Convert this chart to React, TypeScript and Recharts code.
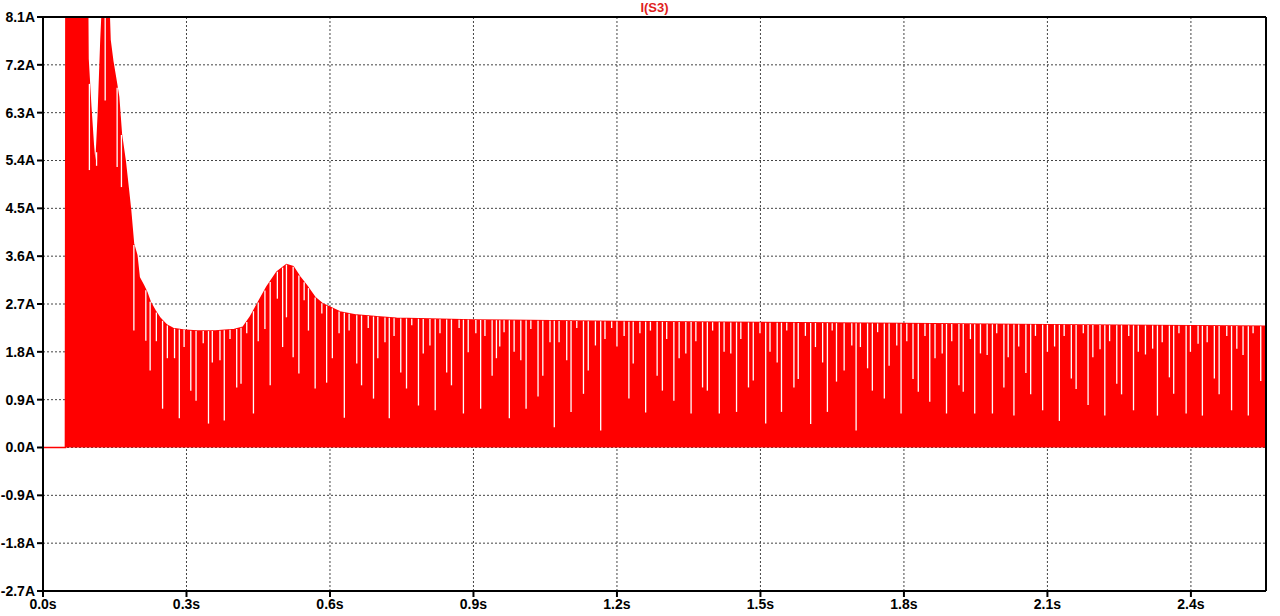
import { ComposedChart, Area, XAxis, YAxis, CartesianGrid, ReferenceLine } from "recharts"

// time axis (s)
const T_MAX = 2.557
const xTicks = [0, 0.3, 0.6, 0.9, 1.2, 1.5, 1.8, 2.1, 2.4]
const yTicks = [-2.7, -1.8, -0.9, 0, 0.9, 1.8, 2.7, 3.6, 4.5, 5.4, 6.3, 7.2, 8.1]

// upper envelope of I(S3) (values above 8.1A are clipped)
const envTime = [
  0, 0.047, 0.048, 0.093, 0.094, 0.0997, 0.105, 0.11, 0.1157, 0.1213, 0.126, 0.1366, 0.14, 0.1457,
  0.1526, 0.158, 0.1637, 0.172, 0.178, 0.183, 0.189, 0.196, 0.201, 0.21, 0.217, 0.224, 0.234, 0.245,
  0.259, 0.272, 0.293, 0.321, 0.36, 0.4, 0.418, 0.433, 0.449, 0.468, 0.489, 0.509, 0.523, 0.537,
  0.551, 0.569, 0.585, 0.6, 0.621, 0.656, 0.698, 0.739, 0.9, 1.2, 1.5, 1.8, 2.1, 2.4, 2.557,
]
const envCurrent = [
  0, 0, 8.6, 8.6, 7.31, 6.42, 5.7, 5.18, 6.25, 7.67, 8.6, 8.6, 7.67, 7.27,
  6.9, 6.6, 5.9, 5.37, 4.88, 4.46, 3.84, 3.62, 3.2, 3.05, 2.92, 2.74, 2.58, 2.43,
  2.3, 2.24, 2.21, 2.19, 2.19, 2.22, 2.26, 2.45, 2.71, 3.02, 3.3, 3.44, 3.4, 3.21,
  3.05, 2.82, 2.7, 2.64, 2.55, 2.49, 2.46, 2.43, 2.4, 2.37, 2.35, 2.33, 2.31, 2.29, 2.28,
]

// gaps between switching pulses: [time, lowest current reached]
const dips: [number, number][] = [
  [0.097, 5.22], [0.112, 5.3], [0.13, 6.53], [0.155, 5.28], [0.164, 4.9], [0.19, 2.2], [0.215, 2.01],
  [0.224, 1.45], [0.237, 2.0], [0.25, 0.73], [0.26, 1.68], [0.275, 1.68], [0.285, 0.55], [0.295, 1.89],
  [0.309, 1.07], [0.32, 0.88], [0.335, 1.96], [0.346, 0.45], [0.354, 1.6], [0.37, 1.64], [0.379, 0.51],
  [0.391, 2.04], [0.405, 1.13], [0.414, 1.2], [0.426, 2.15], [0.44, 0.64], [0.45, 2.0], [0.464, 2.23],
  [0.475, 1.17], [0.49, 2.8], [0.501, 1.89], [0.509, 2.45], [0.523, 1.7], [0.535, 1.39], [0.546, 2.77],
  [0.555, 2.2], [0.569, 1.11], [0.583, 2.52], [0.593, 1.22],
  [0.605, 1.68], [0.619, 2.15], [0.63, 0.56], [0.64, 2.2], [0.656, 1.58], [0.666, 1.17], [0.68, 2.25],
  [0.691, 0.92], [0.7, 1.68], [0.715, 1.98], [0.724, 0.55], [0.734, 2.1], [0.748, 1.41], [0.76, 1.11],
  [0.771, 2.3], [0.785, 0.79], [0.795, 1.77], [0.809, 1.92], [0.82, 0.7], [0.83, 2.15], [0.844, 1.41],
  [0.854, 1.17], [0.87, 2.25], [0.879, 0.64], [0.889, 1.79], [0.905, 2.15], [0.915, 0.73], [0.924, 2.1],
  [0.939, 1.35], [0.948, 1.68], [0.955, 1.9],
  [0.964, 2.17], [0.975, 0.55], [0.985, 1.8], [0.999, 1.64], [1.01, 0.73], [1.02, 2.23], [1.035, 0.96],
  [1.045, 1.35], [1.06, 1.98], [1.069, 0.38], [1.079, 1.98], [1.095, 1.64], [1.104, 0.67], [1.116, 2.25],
  [1.13, 1.01], [1.14, 1.45], [1.155, 1.92], [1.166, 0.32], [1.175, 2.04], [1.189, 2.25], [1.2, 1.9],
  [1.215, 2.1], [1.225, 0.92], [1.234, 1.58], [1.248, 2.15], [1.26, 0.66], [1.27, 2.2], [1.284, 1.35],
  [1.295, 1.07], [1.304, 2.04],
  [1.319, 0.88], [1.33, 1.68], [1.344, 1.77], [1.355, 0.64], [1.365, 2.0], [1.379, 1.13], [1.389, 1.07],
  [1.4, 2.2], [1.414, 0.64], [1.424, 1.8], [1.438, 1.77], [1.45, 0.67], [1.459, 2.04], [1.475, 1.13],
  [1.485, 1.26], [1.499, 2.15], [1.511, 0.45], [1.52, 1.8], [1.535, 1.6], [1.544, 0.67], [1.555, 2.2],
  [1.57, 1.13], [1.579, 1.29], [1.594, 2.1], [1.605, 0.44], [1.615, 1.89], [1.63, 1.6], [1.64, 0.67],
  [1.65, 2.2], [1.659, 1.24],
  [1.675, 1.45], [1.691, 1.92], [1.7, 0.32], [1.709, 1.89], [1.724, 1.49], [1.734, 1.07], [1.745, 2.17],
  [1.759, 0.92], [1.769, 1.54], [1.785, 1.92], [1.794, 0.64], [1.806, 2.0], [1.819, 1.29], [1.83, 1.05],
  [1.844, 2.1], [1.854, 0.86], [1.865, 1.68], [1.88, 1.77], [1.889, 0.64], [1.9, 2.0], [1.915, 1.17],
  [1.924, 1.05], [1.939, 2.04], [1.948, 0.64], [1.96, 1.77], [1.974, 1.74], [1.985, 0.64], [1.994, 2.15],
  [2.009, 1.13], [2.018, 1.7],
  [2.03, 0.6], [2.04, 1.9], [2.055, 1.4], [2.065, 1.0], [2.075, 2.1], [2.09, 0.7], [2.1, 1.8],
  [2.115, 1.9], [2.125, 0.5], [2.135, 2.1], [2.15, 1.3], [2.16, 1.1], [2.175, 2.15], [2.185, 0.8],
  [2.195, 1.7], [2.21, 1.85], [2.22, 0.6], [2.23, 2.0], [2.245, 1.2], [2.255, 1.0], [2.27, 2.1],
  [2.28, 0.7], [2.29, 1.8], [2.305, 1.75],
  [2.32, 1.86], [2.33, 0.6], [2.34, 1.98], [2.355, 1.32], [2.364, 1.01], [2.375, 2.15], [2.39, 0.64],
  [2.399, 1.8], [2.415, 1.95], [2.424, 0.6], [2.434, 1.98], [2.449, 1.3], [2.459, 1.0], [2.475, 2.1],
  [2.485, 0.7], [2.496, 1.86], [2.509, 1.74], [2.52, 0.6], [2.53, 2.15], [2.546, 1.25],
]

const data = envTime.map((t, i) => ({ t, i: envCurrent[i] }))

// envelope height at a given time, so a gap reaches the top of the red band
function envAt(t: number) {
  for (let k = 1; k < envTime.length; k++) {
    if (t <= envTime[k]) {
      const t0 = envTime[k - 1]
      const t1 = envTime[k]
      const f = (t - t0) / (t1 - t0)
      return Math.min(8.1, envCurrent[k - 1] + f * (envCurrent[k] - envCurrent[k - 1]))
    }
  }
  return envCurrent[envCurrent.length - 1]
}

const tickStyle = {
  fontFamily: "'Liberation Sans', Arial, sans-serif",
  fontWeight: 700,
  fontSize: 14,
  fill: "#000",
}

export default function App() {
  return (
    <div style={{ position: "absolute", left: 0, top: 0, width: 1280, height: 616, background: "#fff" }}>
      <div
        style={{
          position: "absolute",
          left: 43,
          width: 1223,
          top: 0,
          textAlign: "center",
          fontFamily: "'Liberation Sans', Arial, sans-serif",
          fontWeight: 700,
          fontSize: 13,
          lineHeight: "15px",
          color: "#e02020",
        }}
      >
        I(S3)
      </div>
      <ComposedChart width={1280} height={616} data={data} margin={{ top: 17, right: 14, bottom: 0, left: 0 }}>
        <CartesianGrid stroke="#444" strokeDasharray="2 2" />
        <XAxis
          dataKey="t"
          type="number"
          domain={[0, T_MAX]}
          ticks={xTicks}
          allowDataOverflow
          height={25}
          tick={tickStyle}
          tickSize={6}
          tickLine={{ stroke: "#000", strokeWidth: 2 }}
          axisLine={{ stroke: "#000", strokeWidth: 2 }}
          tickFormatter={(v: number) => `${v.toFixed(1)}s`}
        />
        <YAxis
          type="number"
          domain={[-2.7, 8.1]}
          ticks={yTicks}
          allowDataOverflow
          width={43}
          tick={tickStyle}
          tickSize={6}
          tickLine={{ stroke: "#000", strokeWidth: 2 }}
          axisLine={{ stroke: "#000", strokeWidth: 2 }}
          tickFormatter={(v: number) => `${v.toFixed(1)}A`}
        />
        <Area
          type="linear"
          dataKey="i"
          baseValue={0}
          stroke="#ff0000"
          strokeWidth={1.6}
          fill="#ff0000"
          fillOpacity={1}
          isAnimationActive={false}
          dot={false}
          activeDot={false}
        />
        {dips.map(([t, low]) => (
          <ReferenceLine
            key={t}
            segment={[
              { x: t, y: low },
              { x: t, y: envAt(t) },
            ]}
            stroke="#ffffff"
            strokeWidth={1.3}
          />
        ))}
        <ReferenceLine y={8.1} stroke="#000" strokeWidth={2} />
        <ReferenceLine x={T_MAX} stroke="#000" strokeWidth={2} />
      </ComposedChart>
    </div>
  )
}
